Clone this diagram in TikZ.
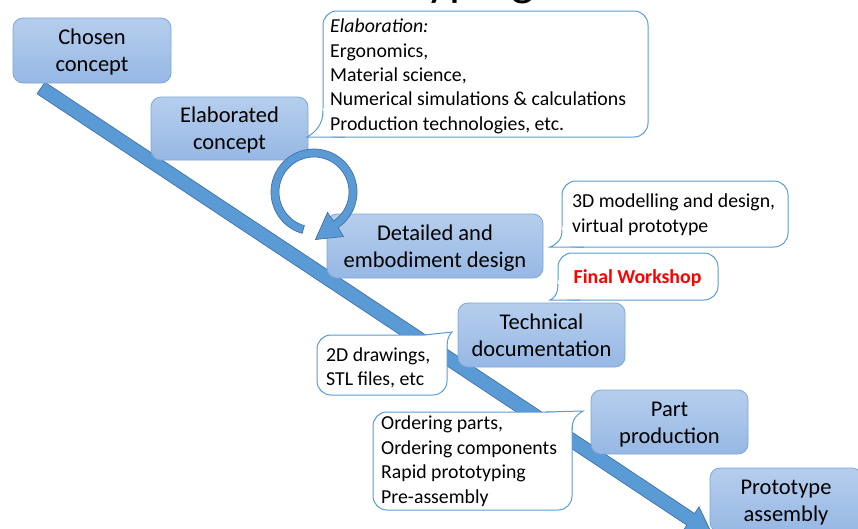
\documentclass[tikz,border=0pt]{standalone}
\usepackage{fontspec}
\setmainfont{Carlito}
\usetikzlibrary{calc}
\definecolor{bandfill}{RGB}{91,155,213}
\definecolor{bandedge}{RGB}{65,113,170}
\definecolor{boxtop}{RGB}{182,206,237}
\definecolor{boxbot}{RGB}{150,184,228}
\definecolor{boxedge}{RGB}{126,166,216}
\definecolor{noteedge}{RGB}{91,155,213}
\definecolor{alertred}{RGB}{255,0,0}
\newcommand\stagefont{\fontsize{22.5}{27}\selectfont}
\newcommand\notefont{\fontsize{19.8}{24.4}\selectfont}
% invisible struts that give every text block the same height and depth
\newcommand\stagestrut{\rule[-5.5pt]{0pt}{26.5pt}}
\newcommand\notestrut{\rule[-5pt]{0pt}{22pt}}
\begin{document}
\begin{tikzpicture}[x=1pt,y=-1pt,
  stage/.style={rounded corners=10pt, draw=boxedge, line width=0.8pt,
    top color=boxtop, bottom color=boxbot, align=center, font=\stagefont,
    inner sep=0pt, text=black},
  notebox/.style={rounded corners=14pt, draw=noteedge, line width=1pt, fill=white,
    inner sep=0pt},
  notetext/.style={align=left, font=\notefont, inner sep=0pt, anchor=west, text=black},
  tail/.style={draw=noteedge, line width=1pt},
  bandshape/.style={fill=bandfill, draw=bandedge, line width=0.7pt, line join=miter}]
\useasboundingbox (0,0) rectangle (858,528);
\clip (0,0) rectangle (858,528);

% heading, mostly above the page edge
\node[font=\fontsize{49}{49}\selectfont, anchor=base west, inner sep=0pt] (title) at (301,-5) {Prototyping};

% main diagonal process arrow
\path[bandshape] (37.1,93.8) -- (44.9,82.2) -- (694.6,513.5) -- (699.0,506.8)
  -- (711.6,533.2) -- (682.4,531.8) -- (686.8,525.1) -- cycle;

% process stages
\node[stage, minimum width=158pt, minimum height=65pt] (chosen) at (92,50.5) {\stagestrut Chosen\\concept\stagestrut};
\node[stage, minimum width=157pt, minimum height=63pt] (elab) at (229.5,128.5) {\stagestrut Elaborated\\concept\stagestrut};
\node[stage, minimum width=216pt, minimum height=64pt] (detail) at (435,246) {\stagestrut Detailed and\\embodiment design\stagestrut};
\node[stage, minimum width=167pt, minimum height=64pt] (techdoc) at (541.5,335) {\stagestrut Technical\\documentation\stagestrut};
\node[stage, minimum width=157pt, minimum height=64pt] (partprod) at (669.5,422) {\stagestrut Part\\production\stagestrut};
\node[stage, minimum width=152pt, minimum height=64pt] (assembly) at (786,500) {\stagestrut Prototype\\assembly\stagestrut};

% iteration loop arrow
\path[bandshape] plot[domain=106:416, samples=80] ({314+43*cos(\x)},{192+43*sin(\x)})
  -- (343.5,236.5) -- (315.5,239.5) -- (327.5,212.5)
  -- plot[domain=416:106, samples=80] ({314+35*cos(\x)},{192+35*sin(\x)}) -- cycle;

% callout: elaboration topics
\node[notebox, minimum width=325pt, minimum height=126pt] (nelab) at (485.5,74) {};
\fill[white] (323.5,108) -- (323,111) .. controls (323,124) and (316,132) .. (307,137) -- (345,136.4) -- cycle;
\path[tail] (323,111) .. controls (323,124) and (316,132) .. (307,137) -- (345,137);
\node[notetext] (nelabtext) at (330,75.5)
  {\notestrut\textit{Elaboration:}\\Ergonomics,\\Material science,\\Numerical simulations \& calculations\\Production technologies, etc.\notestrut};

% callout: 3D modelling
\node[notebox, minimum width=226pt, minimum height=66pt] (n3d) at (675,214) {};
\fill[white] (562.5,226) -- (562,230) .. controls (562,240) and (557,244) .. (550,247) -- (582,246.4) -- cycle;
\path[tail] (562,230) .. controls (562,240) and (557,244) .. (550,247) -- (584,247);
\node[notetext] (n3dtext) at (572,214) {\notestrut 3D modelling and design,\\virtual prototype\notestrut};

% callout: final workshop
\node[notebox, minimum width=160pt, minimum height=47pt] (nwork) at (638,276.5) {};
\fill[white] (558.5,280) -- (558,284) .. controls (558,293) and (555,298) .. (550,300) -- (578,299.4) -- cycle;
\path[tail] (558,284) .. controls (558,293) and (555,298) .. (550,300) -- (580,300);
\node[notetext, anchor=center, font=\notefont\bfseries, text=alertred] (nworktext) at (637.5,277) {\notestrut Final Workshop};

% callout: 2D documentation
\node[notebox, minimum width=130pt, minimum height=60pt] (n2d) at (382,365) {};
\fill[white] (424,335.6) -- (452,332) .. controls (448,336) and (447,340) .. (447,347) -- (446.4,352) -- cycle;
\path[tail] (424,335) -- (452,332) .. controls (448,336) and (447,340) .. (447,351);
\node[notetext] (n2dtext) at (326,367.5) {\notestrut 2D drawings,\\STL files, etc\notestrut};

% callout: production tasks
\node[notebox, minimum width=199pt, minimum height=98pt] (norder) at (472.5,461) {};
\fill[white] (546,412.6) -- (583,411) .. controls (577,415) and (572,418) .. (572,426) -- (571.4,430) -- cycle;
\path[tail] (546,412) -- (583,411) .. controls (577,415) and (572,418) .. (572,430);
\node[notetext] (nordertext) at (381,460.5)
  {\notestrut Ordering parts,\\Ordering components\\Rapid prototyping\\Pre-assembly\notestrut};
\end{tikzpicture}
\end{document}
